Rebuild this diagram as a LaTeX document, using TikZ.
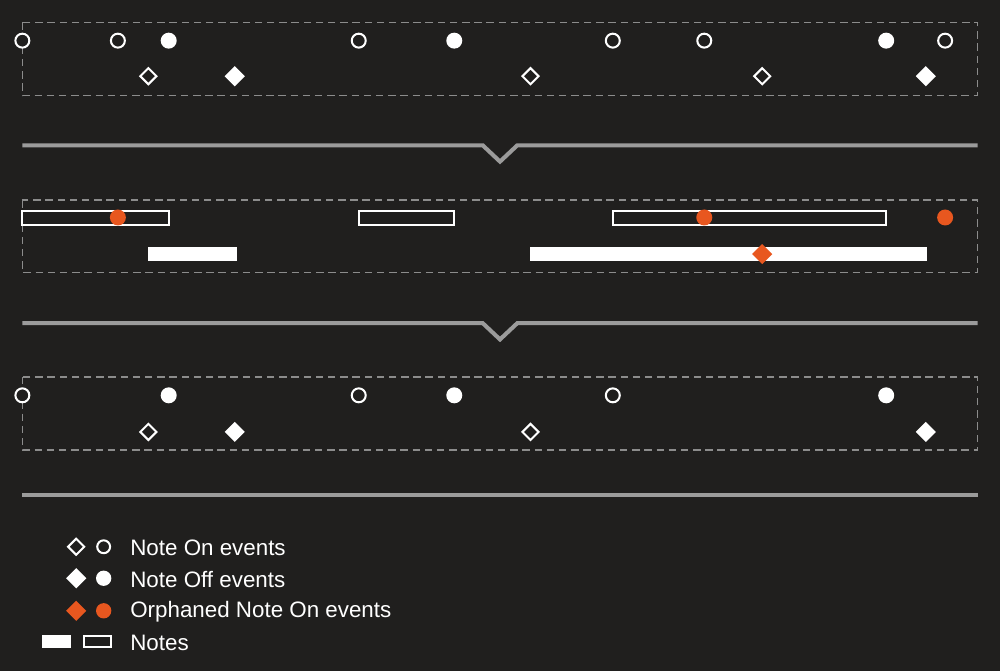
\documentclass[tikz,border=0pt]{standalone}
\usepackage{fontspec}
\setmainfont{Liberation Sans}
\usetikzlibrary{shapes.geometric}
\definecolor{bg}{HTML}{201F1E}
\definecolor{sepgray}{HTML}{9B9B9B}
\definecolor{dashgray}{HTML}{8C8C8C}
\definecolor{orph}{HTML}{E8571F}
\tikzset{
  evbox/.style={draw=dashgray, line width=1.1pt, dash pattern=on 5.5pt off 3.5pt},
  sepline/.style={draw=sepgray, line width=3pt},
  oncirc/.style={circle, draw=white, line width=1.5pt, fill=bg, minimum size=10.3pt, inner sep=0pt},
  offcirc/.style={circle, fill=white, minimum size=11.8pt, inner sep=0pt},
  orphcirc/.style={circle, fill=orph, minimum size=11.8pt, inner sep=0pt},
  ondia/.style={diamond, draw=white, line width=1.5pt, fill=bg, minimum size=12.5pt, inner sep=0pt},
  offdia/.style={diamond, fill=white, minimum size=15pt, inner sep=0pt},
  orphdia/.style={diamond, fill=orph, minimum size=15pt, inner sep=0pt},
  notefill/.style={fill=white},
  noteopen/.style={draw=white, line width=1.5pt},
  lbl/.style={anchor=west, text=white, font=\fontsize{16.5}{19}\selectfont, inner sep=0pt}
}
\begin{document}
\begin{tikzpicture}[x=0.75pt,y=-0.75pt]
\fill[bg] (0,0) rectangle (984,660);
\useasboundingbox (0,0) rectangle (984,660);

% ---------- Row 1 ----------
\draw[evbox] (22,22) rectangle (962,94);
\foreach \n/\x in {a/22,b/116,c/353,d/603,e/693,f/930}
  \node[oncirc] (r1on\n) at (\x,40) {};
\foreach \n/\x in {a/166,b/447,c/872}
  \node[offcirc] (r1off\n) at (\x,40) {};
\foreach \n/\x in {a/146,b/522,c/750}
  \node[ondia] (r1ond\n) at (\x,75) {};
\foreach \n/\x in {a/231,b/911}
  \node[offdia] (r1offd\n) at (\x,75) {};

% ---------- Separator 1 ----------
\draw[sepline, line join=miter] (22,143) -- (475,143) -- (492,159) -- (509,143) -- (962,143);

% ---------- Row 2 ----------
\draw[evbox] (22,197) rectangle (962,268);
\draw[noteopen] (22,207.5) rectangle (166,221) node[pos=0.5] (n2a) {};
\draw[noteopen] (353,207.5) rectangle (447,221) node[pos=0.5] (n2b) {};
\draw[noteopen] (603,207.5) rectangle (872,221) node[pos=0.5] (n2c) {};
\fill[notefill] (146,243) rectangle (233,257) node[pos=0.5] (n2d) {};
\fill[notefill] (522,243) rectangle (912,257) node[pos=0.5] (n2e) {};
\node[orphcirc] (o1) at (116,214) {};
\node[orphcirc] (o2) at (693,214) {};
\node[orphcirc] (o3) at (930,214) {};
\node[orphdia] (o4) at (750,250) {};

% ---------- Separator 2 ----------
\draw[sepline, line join=miter] (22,318) -- (475,318) -- (492,334) -- (509,318) -- (962,318);

% ---------- Row 3 ----------
\draw[evbox] (22,371) rectangle (962,443);
\foreach \n/\x in {a/22,b/353,c/603}
  \node[oncirc] (r3on\n) at (\x,389) {};
\foreach \n/\x in {a/166,b/447,c/872}
  \node[offcirc] (r3off\n) at (\x,389) {};
\foreach \n/\x in {a/146,b/522}
  \node[ondia] (r3ond\n) at (\x,425) {};
\foreach \n/\x in {a/231,b/911}
  \node[offdia] (r3offd\n) at (\x,425) {};

% ---------- Separator 3 ----------
\draw[sepline] (22,487) -- (962,487);

% ---------- Legend ----------
\node[ondia] (lg1d) at (75,538) {};
\node[oncirc, minimum size=9.5pt] (lg1c) at (102,538) {};
\node[lbl] (lg1t) at (128,539) {Note On events};
\node[offdia] (lg2d) at (75,569) {};
\node[offcirc, minimum size=11.3pt] (lg2c) at (102,569) {};
\node[lbl] (lg2t) at (128,570) {Note Off events};
\node[orphdia] (lg3d) at (75,601) {};
\node[orphcirc, minimum size=11.3pt] (lg3c) at (102,601) {};
\node[lbl] (lg3t) at (128,602) {Orphaned Note On events};
\fill[notefill] (41,625) rectangle (70,638) node[pos=0.5] (lg4a) {};
\draw[noteopen] (83,626) rectangle (109,637) node[pos=0.5] (lg4b) {};
\node[lbl] (lg4t) at (128,633) {Notes};
\end{tikzpicture}
\end{document}
